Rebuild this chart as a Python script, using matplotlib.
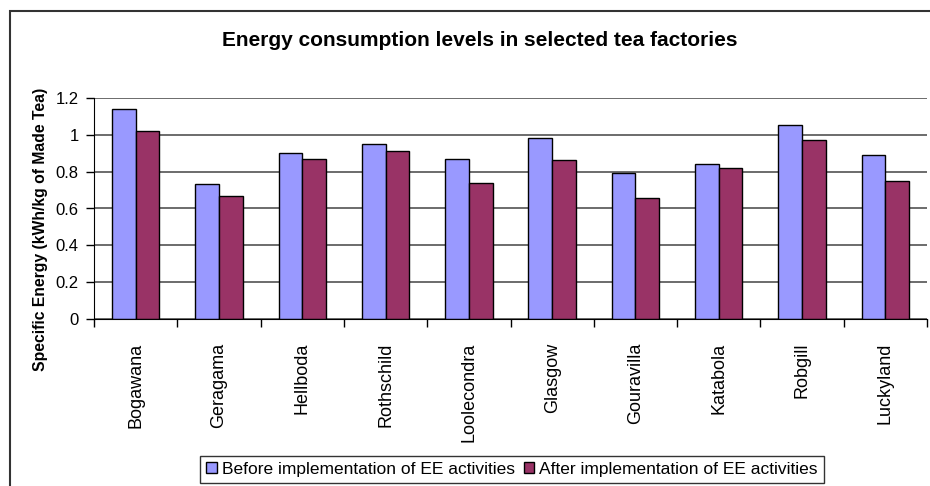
import matplotlib
matplotlib.use("Agg")
import matplotlib.pyplot as plt
import numpy as np
from matplotlib.patches import Rectangle

factories = ["Bogawana", "Geragama", "Hellboda", "Rothschild", "Loolecondra",
             "Glasgow", "Gouravilla", "Katabola", "Robgill", "Luckyland"]
before = [1.14, 0.73, 0.90, 0.95, 0.87, 0.98, 0.79, 0.84, 1.05, 0.89]
after = [1.02, 0.67, 0.87, 0.91, 0.74, 0.86, 0.655, 0.82, 0.97, 0.75]
yticks = [0, 0.2, 0.4, 0.6, 0.8, 1, 1.2]
ytick_labels = ["0", "0.2", "0.4", "0.6", "0.8", "1", "1.2"]

plt.rcParams['font.family'] = ['Liberation Sans', 'DejaVu Sans']

W, H = 930, 486
fig = plt.figure(figsize=(W / 100, H / 100), dpi=100)
ax = fig.add_axes([94 / W, 1 - 319.3 / H, (927 - 94) / W, (319.3 - 97.7) / H])

# outer chart frame
fig.patches.append(Rectangle((9.5 / W, -0.1), 2, 1.1 - 11 / H, transform=fig.transFigure,
                             fill=False, edgecolor='#333333', linewidth=1.5, zorder=0))

x = np.arange(len(factories))
bw = 0.285
ax.bar(x - bw / 2, before, bw, color='#9999FF', edgecolor='black', linewidth=1,
       label='Before implementation of EE activities', zorder=3)
ax.bar(x + bw / 2, after, bw, color='#993366', edgecolor='black', linewidth=1,
       label='After implementation of EE activities', zorder=3)

ax.set_xlim(-0.5, len(factories) - 0.5)
ax.set_ylim(0, 1.2)
ax.set_yticks(yticks)
ax.set_yticklabels(ytick_labels, fontsize=12)
ax.yaxis.grid(True, color='#444444', linewidth=1.1, zorder=0)
ax.set_axisbelow(True)

ax.set_xticks(x)
ax.set_xticklabels(factories, rotation=90, fontsize=13, va='top', ha='center')
ax.set_xticks(np.arange(-0.5, len(factories), 1), minor=True)
ax.tick_params(axis='x', which='major', length=0, pad=17)
ax.tick_params(axis='x', which='minor', length=6, width=1, direction='out', color='black')
ax.tick_params(axis='y', length=6, width=1, direction='out', pad=5, color='black')

for s in ['top', 'right']:
    ax.spines[s].set_visible(False)
for s in ['left', 'bottom']:
    ax.spines[s].set_color('black')
    ax.spines[s].set_zorder(4)

fig.text(40 / W, 1 - 229 / H, "Specific Energy (kWh/kg of Made Tea)", rotation=90,
         fontsize=11.3, fontweight='bold', ha='center', va='center')

fig.text(480 / W, 1 - 40 / H, "Energy consumption levels in selected tea factories",
         fontsize=15, fontweight='bold', ha='center', va='center')

leg = fig.legend(loc='upper center', bbox_to_anchor=(512 / W, 1 - 456 / H), ncol=2,
                 fontsize=12.5, frameon=True, fancybox=False, edgecolor='black',
                 handlelength=0.6, handleheight=0.6, handletextpad=0.3,
                 columnspacing=0.5, borderpad=0.35, borderaxespad=0)
leg.get_frame().set_linewidth(1)

fig.savefig("out.png", dpi=100)
